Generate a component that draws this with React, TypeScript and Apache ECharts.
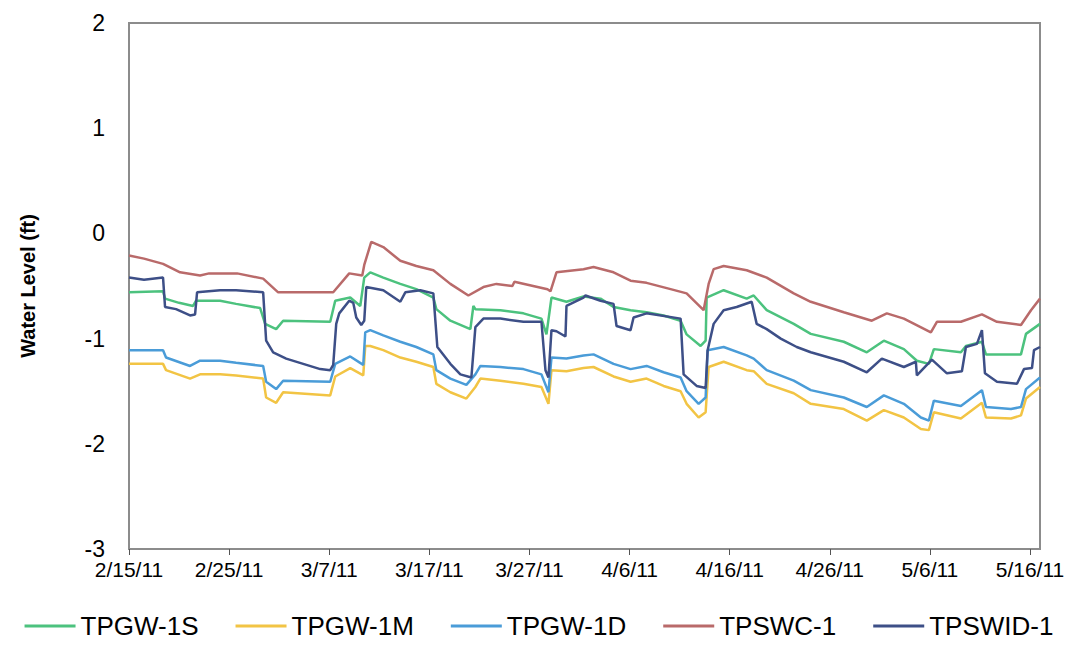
import React, { useEffect, useRef } from "react";
import * as echarts from "echarts";

// x values are days after 2/15/11
const tickDays = [0, 10, 20, 30, 40, 50, 60, 70, 80, 90];
const tickLabels = ["2/15/11", "2/25/11", "3/7/11", "3/17/11", "3/27/11", "4/6/11", "4/16/11", "4/26/11", "5/6/11", "5/16/11"];
const yTicks = [-3, -2, -1, 0, 1, 2];

const seriesNames = ["TPGW-1S", "TPGW-1M", "TPGW-1D", "TPSWC-1", "TPSWID-1"];
const seriesColors = ["#4cc27e", "#f2c444", "#4a9cd8", "#b96a6a", "#3d4f87"];

const tpgw1S: [number, number][] = [
  [0, -0.56], [3.4, -0.55], [3.6, -0.62], [5, -0.66], [6.4, -0.69], [6.7, -0.64], [9.1, -0.64], [10.7, -0.67],
  [13.1, -0.71], [13.6, -0.86], [14.7, -0.91], [15.4, -0.83], [20.1, -0.84], [20.6, -0.64], [22.1, -0.61],
  [23.1, -0.69], [23.5, -0.42], [24.1, -0.37], [25.4, -0.42], [27.1, -0.48], [28.7, -0.53], [30.4, -0.61],
  [30.7, -0.72], [32.1, -0.83], [34.1, -0.91], [34.4, -0.69], [34.6, -0.72], [37.1, -0.73], [39.4, -0.76],
  [41.2, -0.81], [41.7, -0.96], [42.2, -0.61], [43.7, -0.65], [45.4, -0.6], [47.1, -0.62], [48.4, -0.7],
  [50.1, -0.73], [51.7, -0.75], [53.4, -0.78], [55.1, -0.83], [55.7, -0.96], [57.1, -1.07], [57.6, -1.02],
  [57.7, -0.61], [59.4, -0.54], [61.7, -0.62], [62.4, -0.59], [63.7, -0.73], [66.4, -0.86], [68.1, -0.955],
  [71.4, -1.03], [73.7, -1.13], [75.4, -1.02], [77.4, -1.1], [78.7, -1.21], [79.9, -1.24], [80.4, -1.1],
  [83.1, -1.13], [83.6, -1.07], [85.2, -1.03], [85.6, -1.15], [89.1, -1.15], [89.6, -0.955], [91, -0.86],
];

const tpgw1M: [number, number][] = [
  [0, -1.24], [3.4, -1.24], [3.7, -1.3], [6.1, -1.38], [7.1, -1.34], [9.1, -1.34], [10.7, -1.35], [13.4, -1.38],
  [13.7, -1.56], [14.7, -1.61], [15.4, -1.51], [20.1, -1.54], [20.6, -1.36], [22.1, -1.28], [23.4, -1.35],
  [23.6, -1.07], [24.1, -1.07], [25.4, -1.11], [27.1, -1.18], [28.7, -1.22], [30.4, -1.27], [30.7, -1.43],
  [32.1, -1.51], [33.7, -1.57], [34.6, -1.46], [35.1, -1.38], [37.1, -1.4], [39.4, -1.43], [41.2, -1.46],
  [41.9, -1.62], [42.2, -1.3], [43.7, -1.31], [45.4, -1.28], [46.4, -1.27], [48.4, -1.36], [50.1, -1.41],
  [51.7, -1.38], [53.4, -1.45], [55.1, -1.5], [55.7, -1.62], [56.9, -1.75], [57.6, -1.7], [57.9, -1.27],
  [59.4, -1.22], [61.7, -1.3], [62.4, -1.31], [63.7, -1.43], [66.4, -1.52], [68.1, -1.62], [71.4, -1.67],
  [73.7, -1.78], [75.4, -1.68], [77.4, -1.75], [79.1, -1.86], [79.9, -1.87], [80.4, -1.7], [83.1, -1.76],
  [85.2, -1.61], [85.6, -1.75], [88.1, -1.76], [89.1, -1.73], [89.6, -1.57], [91, -1.46],
];

const tpgw1D: [number, number][] = [
  [0, -1.11], [3.4, -1.11], [3.7, -1.18], [6.1, -1.26], [7.1, -1.21], [9.1, -1.21], [10.7, -1.23], [13.4, -1.26],
  [13.7, -1.41], [14.7, -1.48], [15.4, -1.4], [20.1, -1.41], [20.6, -1.24], [22.1, -1.17], [23.4, -1.25],
  [23.6, -0.94], [24.1, -0.92], [25.4, -0.97], [27.1, -1.03], [28.7, -1.08], [30.4, -1.15], [30.7, -1.3],
  [32.1, -1.38], [33.7, -1.44], [34.6, -1.34], [35.1, -1.26], [37.1, -1.27], [39.4, -1.29], [41.2, -1.34],
  [41.9, -1.51], [42.2, -1.18], [43.7, -1.19], [45.4, -1.16], [46.4, -1.15], [48.4, -1.24], [50.1, -1.29],
  [51.7, -1.26], [53.4, -1.32], [55.1, -1.37], [55.7, -1.5], [56.9, -1.62], [57.6, -1.56], [57.8, -1.11],
  [59.4, -1.08], [61.7, -1.16], [62.4, -1.19], [63.7, -1.3], [66.4, -1.4], [68.1, -1.49], [71.4, -1.56],
  [73.7, -1.65], [75.4, -1.54], [77.4, -1.62], [79.1, -1.75], [79.9, -1.78], [80.4, -1.59], [83.1, -1.64],
  [85.2, -1.49], [85.6, -1.65], [88.1, -1.67], [89.1, -1.65], [89.6, -1.48], [91, -1.37],
];

const tpswc1: [number, number][] = [
  [0, -0.21], [1.5, -0.24], [3.4, -0.29], [5.1, -0.37], [7.1, -0.4], [8, -0.38], [10.8, -0.38], [13.4, -0.43],
  [14.9, -0.56], [17, -0.56], [20.4, -0.56], [22, -0.38], [23.3, -0.4], [23.5, -0.3], [24.2, -0.08],
  [25.4, -0.13], [27.1, -0.26], [28.7, -0.31], [30.4, -0.35], [32.1, -0.48], [33.9, -0.59], [35.4, -0.51],
  [36.7, -0.48], [38.3, -0.5], [38.5, -0.46], [41.8, -0.53], [42.1, -0.55], [42.7, -0.37], [45.4, -0.34],
  [46.4, -0.32], [48.4, -0.37], [50.1, -0.45], [51.7, -0.47], [54.1, -0.53], [55.7, -0.57], [57.4, -0.73],
  [57.9, -0.48], [58.4, -0.34], [59.4, -0.31], [61.7, -0.35], [63.7, -0.42], [66.4, -0.57], [68.1, -0.65],
  [71.4, -0.75], [74.2, -0.83], [75.7, -0.76], [77.4, -0.81], [80.1, -0.94], [80.7, -0.84], [83.1, -0.84],
  [85.2, -0.77], [86.7, -0.84], [89.1, -0.87], [90.1, -0.73], [91, -0.62],
];

const tpswid1: [number, number][] = [
  [0, -0.42], [1.5, -0.44], [3.4, -0.42], [3.6, -0.7], [4.7, -0.72], [6.1, -0.78], [6.6, -0.77], [6.8, -0.56],
  [9.1, -0.54], [10.7, -0.54], [13.4, -0.56], [13.7, -1.02], [14.4, -1.13], [15.7, -1.19], [17.4, -1.24],
  [19.1, -1.29], [20.1, -1.3], [20.4, -1.25], [20.7, -0.86], [21, -0.76], [22, -0.64], [22.4, -0.66],
  [22.7, -0.8], [23.2, -0.87], [23.5, -0.83], [23.7, -0.51], [25.4, -0.54], [27.1, -0.65], [27.6, -0.56],
  [29.1, -0.54], [30.4, -0.57], [30.8, -1.08], [32.1, -1.24], [33.1, -1.34], [34.2, -1.37], [34.6, -0.89],
  [35.4, -0.81], [37.1, -0.81], [39.4, -0.84], [41.2, -0.84], [41.6, -1.3], [41.9, -1.37], [42.2, -0.92],
  [42.7, -0.93], [43.6, -0.98], [43.7, -0.69], [45.4, -0.61], [45.6, -0.59], [47.1, -0.64], [48.4, -0.67],
  [48.7, -0.88], [50.1, -0.92], [50.4, -0.8], [51.7, -0.76], [55.1, -0.81], [55.4, -1.34], [56.7, -1.45],
  [57.6, -1.47], [57.8, -1.11], [58.4, -0.86], [59.4, -0.73], [60.7, -0.7], [62.2, -0.65], [62.7, -0.86],
  [63.7, -0.91], [65.1, -1.0], [66.7, -1.08], [68.1, -1.13], [71.4, -1.22], [73.7, -1.32], [75.2, -1.19],
  [77.4, -1.27], [78.6, -1.22], [78.7, -1.35], [80.2, -1.2], [81.7, -1.33], [83.2, -1.31], [83.6, -1.08],
  [84.7, -1.05], [85.2, -0.92], [85.5, -1.33], [86.7, -1.41], [88.7, -1.43], [89.4, -1.29], [90.2, -1.28],
  [90.4, -1.11], [91, -1.08],
];

const seriesData = [tpgw1S, tpgw1M, tpgw1D, tpswc1, tpswid1];

const FONT = "'Liberation Sans', Arial, sans-serif";

export default function App() {
  const ref = useRef<HTMLDivElement>(null);
  useEffect(() => {
    if (!ref.current) return;
    const chart = echarts.init(ref.current, null, { renderer: "svg" });
    chart.setOption({
      animation: false,
      backgroundColor: "#ffffff",
      grid: {
        left: 129,
        right: 38,
        top: 23,
        bottom: 96,
        show: true,
        borderColor: "#8c8c8c",
        borderWidth: 2,
        containLabel: false,
      },
      legend: {
        top: 611,
        left: "center",
        padding: 0,
        icon: "rect",
        itemWidth: 51,
        itemHeight: 3,
        itemGap: 37,
        textStyle: { fontFamily: FONT, fontSize: 26, color: "#000", lineHeight: 30 },
        data: seriesNames,
      },
      xAxis: {
        type: "value",
        min: 0,
        max: 91,
        axisLine: { show: true, onZero: false, lineStyle: { color: "#8c8c8c", width: 2 } },
        axisTick: {
          show: true,
          length: 6,
          customValues: tickDays,
          lineStyle: { color: "#555", width: 1 },
        },
        axisLabel: {
          customValues: tickDays,
          fontFamily: FONT,
          fontSize: 21,
          color: "#000",
          margin: 10,
          formatter: (v: number) => {
            const i = tickDays.indexOf(Math.round(v));
            return i >= 0 ? tickLabels[i] : "";
          },
        },
        splitLine: { show: false },
      },
      yAxis: {
        type: "value",
        min: yTicks[0],
        max: yTicks[yTicks.length - 1],
        interval: 1,
        name: "Water Level (ft)",
        nameLocation: "middle",
        nameGap: 91,
        nameTextStyle: { fontFamily: FONT, fontSize: 20, fontWeight: "bold", color: "#000" },
        axisLine: { show: true, lineStyle: { color: "#8c8c8c", width: 2 } },
        axisTick: { show: false },
        axisLabel: { fontFamily: FONT, fontSize: 23, color: "#000", margin: 24 },
        splitLine: { show: false },
      },
      series: seriesNames.map((name, i) => ({
        name,
        type: "line",
        data: seriesData[i],
        symbol: "none",
        color: seriesColors[i],
        lineStyle: { color: seriesColors[i], width: 2.5 },
      })),
    });
    return () => chart.dispose();
  }, []);
  return (
    <div
      ref={ref}
      style={{ position: "absolute", left: 0, top: 0, width: 1078, height: 645 }}
    />
  );
}
